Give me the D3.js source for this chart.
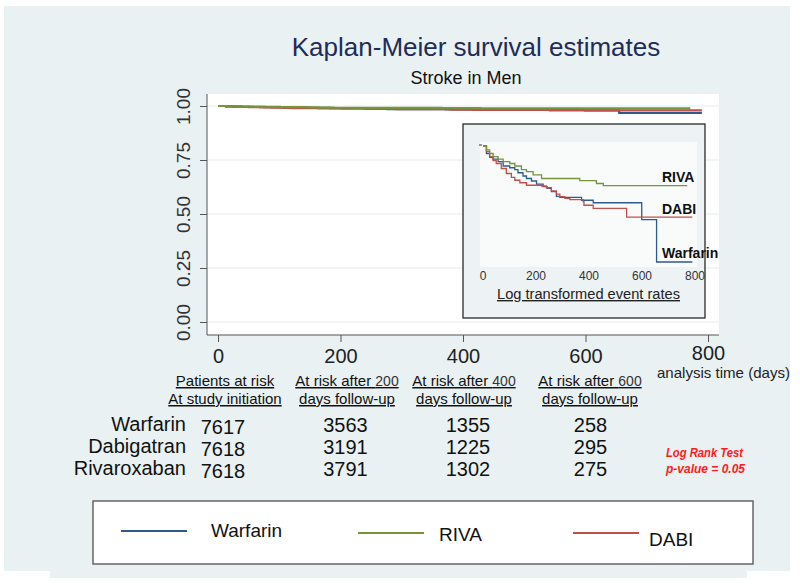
<!DOCTYPE html>
<html><head><meta charset="utf-8">
<script src="https://cdn.jsdelivr.net/npm/d3@7"></script>
<style>body{margin:0;background:#fff}svg{display:block}text{font-family:"Liberation Sans",Arial,sans-serif}</style>
</head><body><div id="chart"></div>
<script>
// ---------- data ----------
const seriesNames = ["Warfarin", "RIVA", "DABI"];
const seriesColors = ["#2f5a8c", "#77933c", "#c0504d"];
// survival estimates: day, survival
const warfarinDays = [0, 13, 25, 38, 57, 76, 101, 120, 132, 151, 164, 183, 202, 227, 242, 258, 277, 290, 372, 416, 599, 655, 790];
const warfarinSurv = [1, .9979, .9968, .9963, .9956, .9944, .9939, .9934, .9925, .9916, .9909, .9902, .9893, .9886, .9881, .9872, .9859, .9856, .9848, .9841, .9794, .9675, .9675];
const rivaDays = [0, 13, 25, 38, 57, 76, 101, 120, 145, 164, 189, 221, 365, 428, 454, 771];
const rivaSurv = [1, .9989, .9979, .9970, .9963, .9956, .9951, .9944, .9934, .9928, .9919, .9909, .9903, .9895, .9889, .9889];
const dabiDays = [0, 13, 25, 38, 50, 69, 88, 107, 120, 139, 164, 221, 239, 258, 277, 290, 309, 328, 378, 381, 416, 542, 790];
const dabiSurv = [1, .9984, .9970, .9959, .9951, .9937, .9923, .9912, .9904, .9897, .9890, .9888, .9883, .9874, .9865, .9858, .9853, .9850, .9844, .9834, .9825, .9801, .9801];

const yTicks = [0, 0.25, 0.5, 0.75, 1];
const xTicks = [0, 200, 400, 600, 800];
const insetTicks = [0, 200, 400, 600, 800];

const riskGroups = ["Warfarin", "Dabigatran", "Rivaroxaban"];
const riskDays = [0, 200, 400, 600];
const atRisk0 = [7617, 7618, 7618];
const atRisk200 = [3563, 3191, 3791];
const atRisk400 = [1355, 1225, 1302];
const atRisk600 = [258, 295, 275];
const riskHeader1 = ["Patients at risk", "At risk after ", "At risk after ", "At risk after "];
const riskHeaderNum = ["", "200", "400", "600"];
const riskHeader2 = ["At study initiation", "days follow-up", "days follow-up", "days follow-up"];

// ---------- build ----------
const W = 800, H = 584;
const svg = d3.select("#chart").append("svg").attr("width", W).attr("height", H);

svg.append("rect").attr("x", 4).attr("y", 6).attr("width", 786).attr("height", 565).attr("fill", "#e9f1f3");
svg.append("rect").attr("x", 50).attr("y", 570).attr("width", 697).attr("height", 8).attr("fill", "#e9f1f3");

// titles
svg.append("text").attr("x", 476).attr("y", 56).attr("text-anchor", "middle")
  .attr("font-size", 26).attr("fill", "#1f2c55").text("Kaplan-Meier survival estimates");
svg.append("text").attr("x", 466).attr("y", 84).attr("text-anchor", "middle")
  .attr("font-size", 18).attr("fill", "#111").text("Stroke in Men");

// main plot
const pL = 207, pR = 719, pT = 94, pB = 335;
const x = d3.scaleLinear().domain([0, 800]).range([218, 708]);
const y = d3.scaleLinear().domain([0, 1]).range([322, 106]);

svg.append("rect").attr("x", pL).attr("y", pT).attr("width", pR - pL).attr("height", pB - pT).attr("fill", "#fff");
svg.append("g").selectAll("line").data(yTicks).join("line")
  .attr("x1", pL).attr("x2", pR).attr("y1", d => y(d)).attr("y2", d => y(d))
  .attr("stroke", "#e3ecef").attr("stroke-width", 1);

const yAxis = svg.append("g").attr("transform", `translate(${pL},0)`)
  .call(d3.axisLeft(y).tickValues(yTicks).tickFormat(d3.format(".2f")).tickSize(7).tickSizeOuter(0));
yAxis.select(".domain").attr("d", `M0,${pT}V${pB}`).attr("stroke", "#555");
yAxis.selectAll(".tick line").attr("stroke", "#555");
yAxis.selectAll(".tick text").attr("font-size", 19).attr("fill", "#333")
  .attr("font-family", "Liberation Sans, Arial, sans-serif")
  .attr("transform", "rotate(-90)").attr("x", 0).attr("y", -17).attr("dy", 0).attr("text-anchor", "middle");

const xAxis = svg.append("g").attr("transform", `translate(0,${pB})`)
  .call(d3.axisBottom(x).tickValues(xTicks).tickFormat(d3.format("d")).tickSize(7).tickSizeOuter(0));
xAxis.select(".domain").attr("d", `M${pL},0H${pR}`).attr("stroke", "#555");
xAxis.selectAll(".tick line").attr("stroke", "#555");
xAxis.selectAll(".tick text").attr("font-size", 20).attr("fill", "#222")
  .attr("font-family", "Liberation Sans, Arial, sans-serif")
  .attr("y", d => d === 800 ? 11 : 14).attr("dy", "0.71em");

svg.append("text").attr("x", 657).attr("y", 378).attr("font-size", 14.5).attr("fill", "#222")
  .attr("textLength", 133).attr("lengthAdjust", "spacingAndGlyphs")
  .text("analysis time (days)");

const series = [
  {name: "Warfarin", days: warfarinDays, surv: warfarinSurv, color: seriesColors[0]},
  {name: "DABI", days: dabiDays, surv: dabiSurv, color: seriesColors[2]},
  {name: "RIVA", days: rivaDays, surv: rivaSurv, color: seriesColors[1]}
];
const mainLine = d3.line().curve(d3.curveStepAfter).x(d => x(d[0])).y(d => y(d[1]));
svg.append("g").selectAll("path").data(series).join("path")
  .attr("d", s => mainLine(s.days.map((d, i) => [d, s.surv[i]])))
  .attr("fill", "none").attr("stroke", s => s.color).attr("stroke-width", 2.2);

// inset
const iL = 463, iT = 124, iR = 705, iB = 318;
svg.append("rect").attr("x", iL).attr("y", iT).attr("width", iR - iL).attr("height", iB - iT)
  .attr("fill", "#edf2f4").attr("stroke", "#2a2a2a").attr("stroke-width", 1.3);
svg.append("rect").attr("x", 480).attr("y", 142).attr("width", 217).attr("height", 125).attr("fill", "#f9fbfb");
const ix = d3.scaleLinear().domain([0, 800]).range([483, 695]);
const iy = d3.scaleLinear().domain([0, 0.0325]).range([146, 262]);
svg.append("line").attr("x1", 479).attr("x2", 482).attr("y1", 145).attr("y2", 145).attr("stroke", "#333");
const insetLine = d3.line().curve(d3.curveStepAfter).x(d => ix(d[0])).y(d => iy(1 - d[1]));
svg.append("g").selectAll("path").data(series).join("path")
  .attr("d", s => insetLine(s.days.map((d, i) => [d, s.surv[i]])))
  .attr("fill", "none").attr("stroke", s => s.color).attr("stroke-width", 1.3);
svg.append("g").selectAll("text").data(insetTicks).join("text")
  .attr("x", d => ix(d)).attr("y", 280).attr("text-anchor", "middle")
  .attr("font-size", 12).attr("fill", "#333").text(d => d);
svg.append("text").attr("x", 497).attr("y", 299)
  .attr("fill", "#222").attr("text-decoration", "underline")
  .attr("font-family", "Open Sans, sans-serif").attr("font-size", 14)
  .attr("textLength", 183).attr("lengthAdjust", "spacingAndGlyphs")
  .text("Log transformed event rates");
const insetLabels = [["RIVA", 177], ["DABI", 209], ["Warfarin", 253]];
svg.append("g").selectAll("text").data(insetLabels).join("text")
  .attr("x", 662).attr("y", d => d[1] + 5).attr("font-size", 14).attr("font-weight", "bold")
  .attr("fill", "#111").text(d => d[0]);

// risk table
const colX = riskDays.map(d => x(d) + 5);
const hdrX = [225, 347, 464, 590];
const hdr = svg.append("g");
riskHeader1.forEach((t, i) => {
  const tx = hdr.append("text").attr("x", hdrX[i]).attr("y", 386).attr("text-anchor", "middle")
    .attr("font-size", 15).attr("fill", "#111").attr("text-decoration", "underline");
  tx.append("tspan").text(t);
  if (riskHeaderNum[i]) tx.append("tspan").attr("font-size", 14).attr("fill", "#333").text(riskHeaderNum[i]);
  hdr.append("text").attr("x", hdrX[i]).attr("y", 404).attr("text-anchor", "middle")
    .attr("font-size", 15).attr("fill", "#111").attr("text-decoration", "underline").text(riskHeader2[i]);
});
const rowY = [432, 454, 476];
const cols = [atRisk0, atRisk200, atRisk400, atRisk600];
riskGroups.forEach((g, r) => {
  svg.append("text").attr("x", 186).attr("y", rowY[r] - 1).attr("text-anchor", "end")
    .attr("font-size", 20).attr("fill", "#111").text(g);
  cols.forEach((c, ci) => {
    svg.append("text").attr("x", colX[ci]).attr("y", rowY[r] + (ci === 0 ? 2 : 0)).attr("text-anchor", "middle")
      .attr("font-size", 20).attr("fill", "#111").text(c[r]);
  });
});
svg.append("text").attr("x", 666).attr("y", 457).attr("font-size", 13).attr("font-weight", "bold")
  .attr("font-style", "italic").attr("fill", "#ff1a1a")
  .attr("textLength", 77).attr("lengthAdjust", "spacingAndGlyphs").text("Log Rank Test");
svg.append("text").attr("x", 666).attr("y", 473).attr("font-size", 13).attr("font-weight", "bold")
  .attr("font-style", "italic").attr("fill", "#ff1a1a")
  .attr("textLength", 79).attr("lengthAdjust", "spacingAndGlyphs").text("p-value = 0.05");

// legend
svg.append("rect").attr("x", 93).attr("y", 501).attr("width", 660).attr("height", 63)
  .attr("fill", "#fff").attr("stroke", "#666").attr("stroke-width", 1.5);
const legendItems = [
  {name: seriesNames[0], color: seriesColors[0], lx: 121, ly: 531, tx: 211, ty: 537},
  {name: seriesNames[1], color: seriesColors[1], lx: 358, ly: 533, tx: 439, ty: 541},
  {name: seriesNames[2], color: seriesColors[2], lx: 573, ly: 533, tx: 649, ty: 546}
];
const lg = svg.append("g").selectAll("g").data(legendItems).join("g");
lg.append("line").attr("x1", d => d.lx).attr("x2", d => d.lx + 66).attr("y1", d => d.ly).attr("y2", d => d.ly)
  .attr("stroke", d => d.color).attr("stroke-width", 2);
lg.append("text").attr("x", d => d.tx).attr("y", d => d.ty).attr("font-size", 19).attr("fill", "#111").text(d => d.name);
</script></body></html>
